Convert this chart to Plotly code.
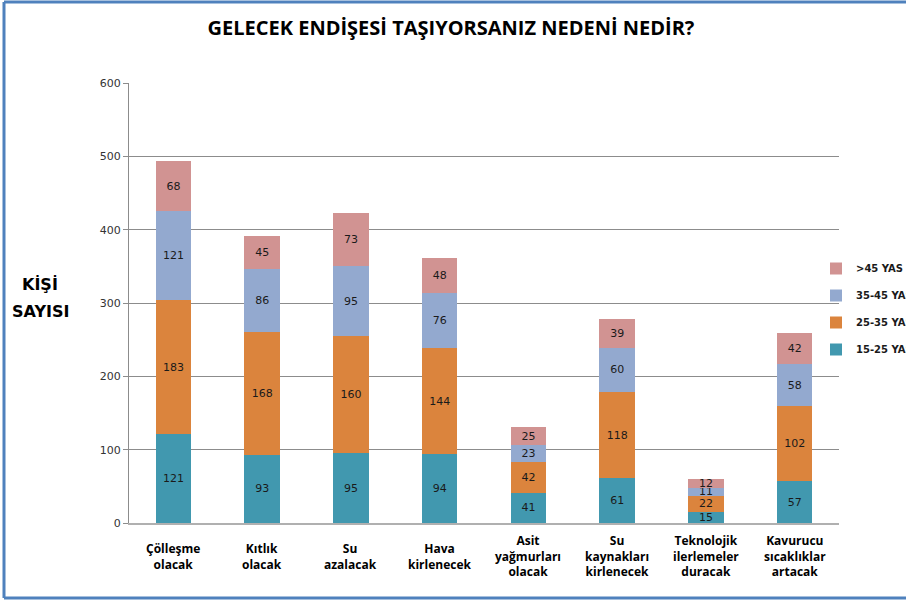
import plotly.graph_objects as go

categories = [
    "Çölleşme<br>olacak",
    "Kıtlık<br>olacak",
    "Su<br>azalacak",
    "Hava<br>kirlenecek",
    "Asit<br>yağmurları<br>olacak",
    "Su<br>kaynakları<br>kirlenecek",
    "Teknolojik<br>ilerlemeler<br>duracak",
    "Kavurucu<br>sıcaklıklar<br>artacak",
]
age_15_25 = [121, 93, 95, 94, 41, 61, 15, 57]
age_25_35 = [183, 168, 160, 144, 42, 118, 22, 102]
age_35_45 = [121, 86, 95, 76, 23, 60, 11, 58]
age_45_plus = [68, 45, 73, 48, 25, 39, 12, 42]

series = [
    ("15-25 YAS", age_15_25, "#4198AF"),
    ("25-35 YAS", age_25_35, "#DB843D"),
    ("35-45 YAS", age_35_45, "#93A9CF"),
    (">45 YAS", age_45_plus, "#D19392"),
]

W, H = 906, 600
L, R, T, B = 129, 839, 83, 523

px_x = lambda p: (p - L) / (R - L)
px_y = lambda p: 1 - (p - T) / (B - T)

fig = go.Figure()
for i, (name, vals, color) in enumerate(series):
    fig.add_trace(go.Bar(
        name="<b>" + name + "</b>", x=categories, y=vals,
        legendgroup=name, legendrank=100 - i,
        marker=dict(color=color, line=dict(width=0)),
        text=vals, textposition="inside", insidetextanchor="middle",
        constraintext="none",
        textfont=dict(family="DejaVu Sans", size=11, color="#1a1a1a"),
    ))

fig.update_layout(
    barmode="stack",
    bargap=0.6,
    width=W, height=H,
    margin=dict(l=L, r=W - R, t=T, b=H - B, autoexpand=False),
    paper_bgcolor="white",
    plot_bgcolor="white",
    title=dict(
        text="<b>GELECEK ENDİŞESİ TAŞIYORSANIZ NEDENİ NEDİR?</b>",
        x=451 / W, xref="container", xanchor="center",
        y=1 - 28 / H, yanchor="middle",
        font=dict(family="Liberation Sans Narrow, Open Sans", size=20, color="black"),
    ),
    legend=dict(
        x=px_x(816), xanchor="left",
        y=px_y(254), yanchor="top",
        traceorder="grouped",
        font=dict(family="DejaVu Sans", size=10, color="#1a1a1a"),
        itemwidth=30, tracegroupgap=8,
        bgcolor="rgba(0,0,0,0)",
    ),
    showlegend=True,
    font=dict(family="Open Sans"),
)

fig.update_yaxes(
    range=[0, 600], dtick=100,
    showgrid=True, gridcolor="#8c8c8c", gridwidth=1,
    showline=True, linecolor="#8c8c8c", linewidth=1,
    ticks="outside", ticklen=5, tickcolor="#8c8c8c",
    tickfont=dict(family="DejaVu Sans", size=11, color="#333333"),
    zeroline=False,
)
fig.update_xaxes(
    showline=True, linecolor="#b0b0b0", linewidth=2,
    ticks="", showticklabels=False,
)

# category labels, vertically centred like the original
for cat in categories:
    fig.add_annotation(
        text="<b>" + cat + "</b>", x=cat, xref="x", yref="paper",
        y=px_y(556), yanchor="middle", showarrow=False, align="center",
        font=dict(family="Liberation Sans Narrow, Open Sans", size=12, color="black"),
    )

for word, ypix in [("KİŞİ", 284), ("SAYISI", 311)]:
    fig.add_annotation(
        text="<b>" + word + "</b>", xref="paper", yref="paper",
        x=px_x(40), y=px_y(ypix), xanchor="center", yanchor="middle",
        showarrow=False, align="center",
        font=dict(family="DejaVu Sans", size=16, color="black"),
    )

# blue frame around the chart
for x0, y0, x1, y1 in [(4, 2, 4, 598), (4, 2, 906, 2), (4, 598, 906, 598)]:
    fig.add_shape(type="line", xref="paper", yref="paper",
                  x0=px_x(x0), y0=px_y(y0), x1=px_x(x1), y1=px_y(y1),
                  line=dict(color="#4F81BD", width=3))

fig.write_html("out.html", config={"displayModeBar": False},
               post_script="document.body.style.margin='0px';")
